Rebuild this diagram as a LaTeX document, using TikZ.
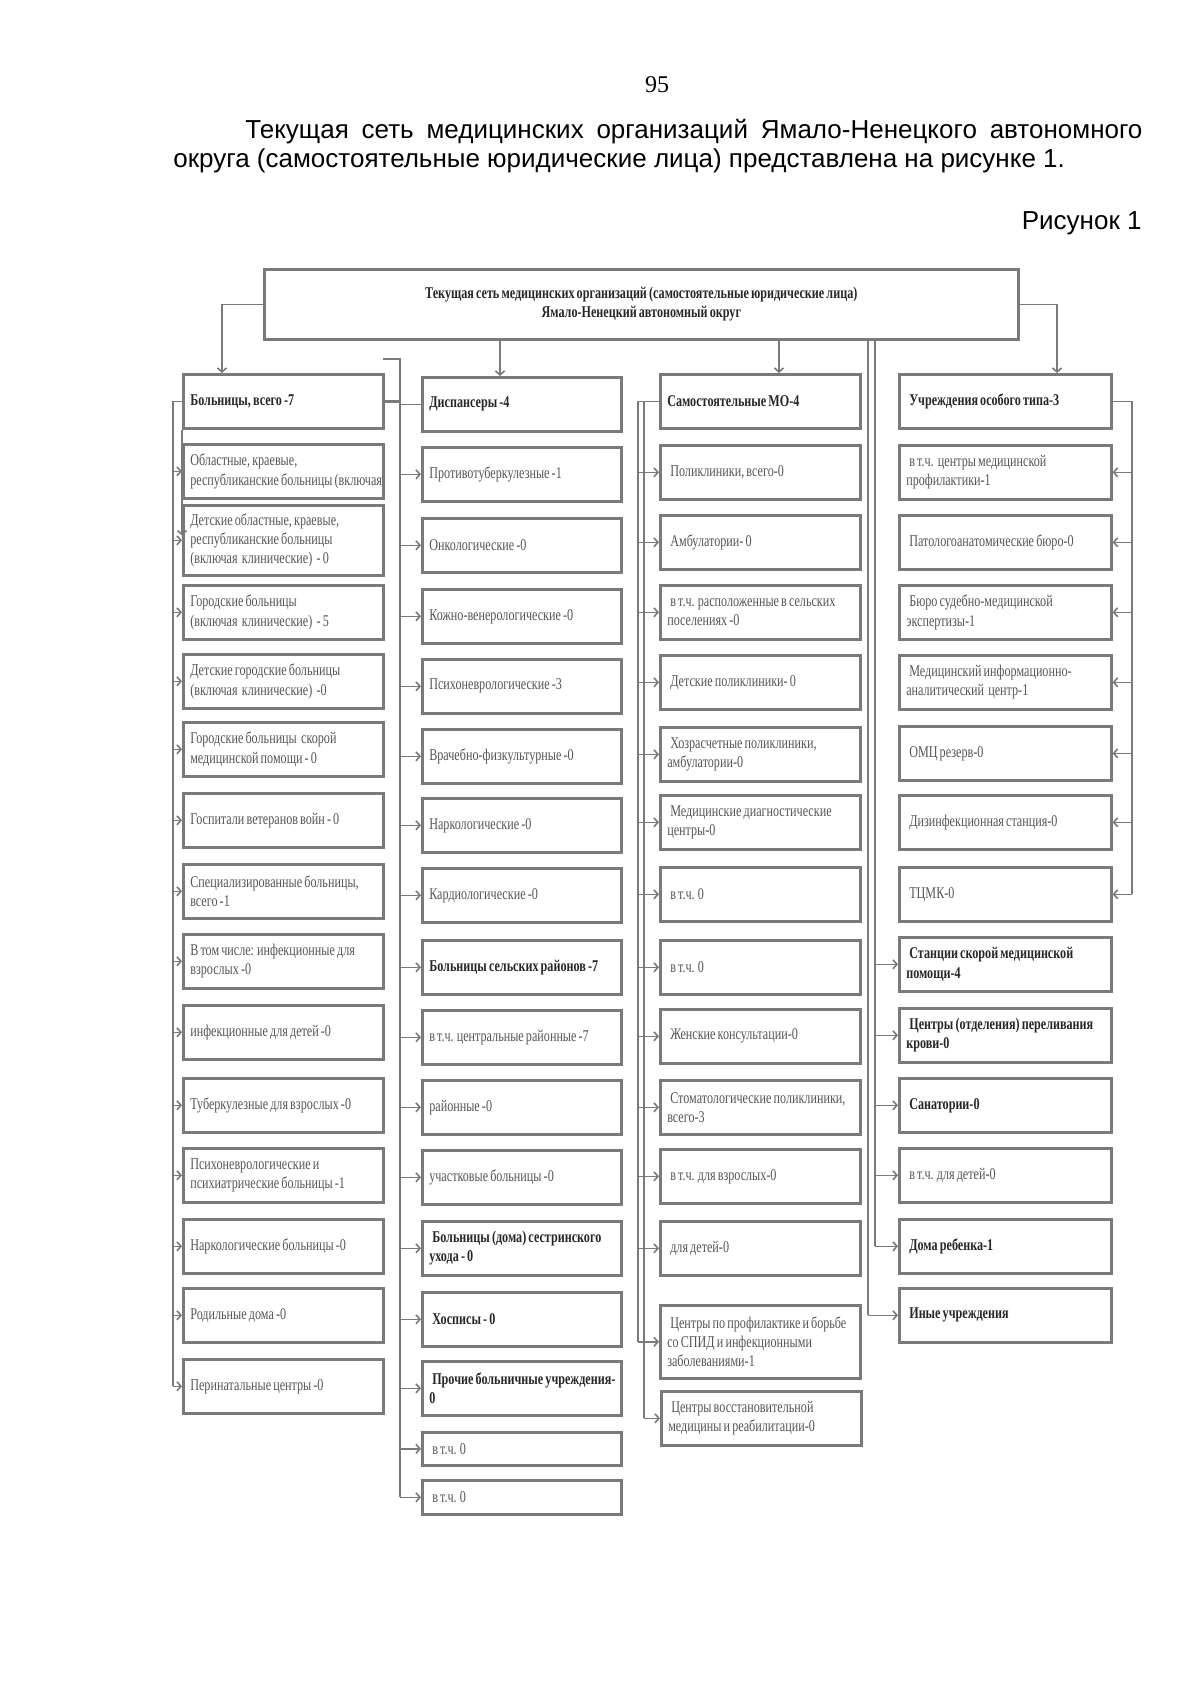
\documentclass[tikz,border=0pt]{standalone}
\usepackage{fontspec}
\setmainfont{Liberation Serif}
\setsansfont{Liberation Sans}
\newfontfamily\diagfont[FakeStretch=0.74, WordSpace=0.7]{Liberation Serif}
\usetikzlibrary{arrows.meta}
\definecolor{boxline}{HTML}{7A7A7A}
\definecolor{boxtext}{HTML}{555555}
\definecolor{boldtext}{HTML}{262626}
\newcommand{\indt}{\hspace*{1.5pt}}
\tikzset{
  orgcell/.style={draw=boxline, line width=1.3pt, anchor=north west,
                  minimum height=27pt, inner xsep=3.5pt, inner ysep=1pt,
                  align=flush left, text=boxtext,
                  font=\diagfont\fontsize{8.2}{9.6}\selectfont},
  boldcell/.style={orgcell, text=boldtext,
                  font=\diagfont\bfseries\fontsize{8.2}{9.6}\selectfont},
  topcell/.style={boldcell, minimum width=377pt, minimum height=35pt, align=center},
  wa/.style={text width=93pt},
  wb/.style={text width=92.5pt},
  wc/.style={text width=93pt},
  wd/.style={text width=99pt},
  pagetext/.style={inner sep=0pt, font=\sffamily\fontsize{13}{14.5}\selectfont},
  link/.style={draw=boxline, line width=0.8pt},
  arr/.style={link, -{Straight Barb[length=2pt, width=4.5pt]}},
}

\begin{document}
\begin{tikzpicture}[x=0.5pt, y=-0.5pt]
  \useasboundingbox (0,0) rectangle (1200,1697);
  \node[anchor=base, inner sep=0pt, font=\fontsize{12}{14}\selectfont] (pagenum) at (657,92) {95};
  \node[pagetext, anchor=base west] (introa) at (245,138)
    {\makebox[448.5pt][s]{Текущая сеть медицинских организаций Ямало-Ненецкого автономного}};
  \node[pagetext, anchor=base west] (introb) at (173,167)
    {округа (самостоятельные юридические лица) представлена на рисунке 1.};
  \node[pagetext, anchor=base east] (figlabel) at (1142,229) {Рисунок 1};

  \node[topcell] (top) at (263,268)
    {Текущая сеть медицинских организаций (самостоятельные юридические лица)\\Ямало-Ненецкий автономный округ};

  % hospitals
  \node[boldcell, wa] (h1) at (182,373) {Больницы, всего -7};
  \node[orgcell, wa] (h2) at (182,443) {Областные, краевые,\\\mbox{республиканские больницы (включая}};
  \node[orgcell, wa, minimum height=35pt] (h3) at (182,504) {Детские областные, краевые,\\республиканские больницы\\(включая\ \ клинические)\ \ - 0};
  \node[orgcell, wa] (h4) at (182,584) {Городские больницы\\(включая\ \ клинические)\ \ - 5};
  \node[orgcell, wa] (h5) at (182,653) {Детские городские больницы\\(включая\ \ клинические)\ \ -0};
  \node[orgcell, wa] (h6) at (182,721) {Городские больницы\ \ скорой\\медицинской помощи - 0};
  \node[orgcell, wa] (h7) at (182,792) {Госпитали ветеранов войн - 0};
  \node[orgcell, wa] (h8) at (182,863) {Специализированные больницы,\\всего -1};
  \node[orgcell, wa] (h9) at (182,933) {В том числе: инфекционные для\\взрослых -0};
  \node[orgcell, wa] (h10) at (182,1004) {инфекционные для детей -0};
  \node[orgcell, wa] (h11) at (182,1077) {Туберкулезные для взрослых -0};
  \node[orgcell, wa] (h12) at (182,1147) {Психоневрологические и\\психиатрические больницы -1};
  \node[orgcell, wa] (h13) at (182,1218) {Наркологические больницы -0};
  \node[orgcell, wa] (h14) at (182,1287) {Родильные дома -0};
  \node[orgcell, wa] (h15) at (182,1358) {Перинатальные центры -0};

  % dispensaries
  \node[boldcell, wb] (d1) at (421,376) {Диспансеры -4};
  \node[orgcell, wb] (d2) at (421,446) {Противотуберкулезные -1};
  \node[orgcell, wb] (d3) at (421,517) {Онкологические -0};
  \node[orgcell, wb] (d4) at (421,588) {Кожно-венерологические -0};
  \node[orgcell, wb] (d5) at (421,658) {Психоневрологические -3};
  \node[orgcell, wb] (d6) at (421,728) {Врачебно-физкультурные -0};
  \node[orgcell, wb] (d7) at (421,797) {Наркологические -0};
  \node[orgcell, wb] (d8) at (421,867) {Кардиологические -0};
  \node[boldcell, wb] (d9) at (421,939) {Больницы сельских районов -7};
  \node[orgcell, wb] (d10) at (421,1009) {в т.ч. центральные районные -7};
  \node[orgcell, wb] (d11) at (421,1079) {районные -0};
  \node[orgcell, wb] (d12) at (421,1149) {участковые больницы -0};
  \node[boldcell, wb] (d13) at (421,1220) {\indt Больницы (дома) сестринского\\ухода - 0};
  \node[boldcell, wb] (d14) at (421,1291) {\indt Хосписы - 0};
  \node[boldcell, wb] (d15) at (421,1360) {\indt \mbox{Прочие больничные учреждения-}\\0};
  \node[orgcell, wb, minimum height=16.5pt] (d16) at (421,1431) {\indt в т.ч. 0};
  \node[orgcell, wb, minimum height=17pt] (d17) at (421,1479) {\indt в т.ч. 0};

  % independent organisations
  \node[boldcell, wc] (m1) at (659,373) {Самостоятельные МО-4};
  \node[orgcell, wc] (m2) at (659,444) {\indt Поликлиники, всего-0};
  \node[orgcell, wc] (m3) at (659,514) {\indt Амбулатории- 0};
  \node[orgcell, wc] (m4) at (659,584) {\indt \mbox{в т.ч. расположенные в сельских}\\поселениях -0};
  \node[orgcell, wc] (m5) at (659,654) {\indt Детские поликлиники- 0};
  \node[orgcell, wc] (m6) at (659,726) {\indt Хозрасчетные поликлиники,\\амбулатории-0};
  \node[orgcell, wc] (m7) at (659,794) {\indt Медицинские диагностические\\центры-0};
  \node[orgcell, wc] (m8) at (659,866) {\indt в т.ч. 0};
  \node[orgcell, wc] (m9) at (659,939) {\indt в т.ч. 0};
  \node[orgcell, wc] (m10) at (659,1008) {\indt Женские консультации-0};
  \node[orgcell, wc] (m11) at (659,1079) {\indt \mbox{Стоматологические поликлиники,}\\всего-3};
  \node[orgcell, wc] (m12) at (659,1148) {\indt в т.ч. для взрослых-0};
  \node[orgcell, wc] (m13) at (659,1220) {\indt для детей-0};
  \node[orgcell, wc, minimum height=36.5pt] (m14) at (659,1304) {\indt \mbox{Центры по профилактике и борьбе}\\со СПИД и инфекционными\\заболеваниями-1};
  \node[orgcell, wc] (m15) at (660,1390) {\indt Центры восстановительной\\медицины и реабилитации-0};

  % special institutions
  \node[boldcell, wd] (u1) at (898,373) {\indt Учреждения особого типа-3};
  \node[orgcell, wd] (u2) at (898,444) {\indt в т.ч.\ \ центры медицинской\\профилактики-1};
  \node[orgcell, wd] (u3) at (898,514) {\indt Патологоанатомические бюро-0};
  \node[orgcell, wd] (u4) at (898,584) {\indt Бюро судебно-медицинской\\экспертизы-1};
  \node[orgcell, wd] (u5) at (898,654) {\indt Медицинский информационно-\\аналитический\ \ центр-1};
  \node[orgcell, wd] (u6) at (898,725) {\indt ОМЦ резерв-0};
  \node[orgcell, wd] (u7) at (898,794) {\indt Дизинфекционная станция-0};
  \node[orgcell, wd] (u8) at (898,866) {\indt ТЦМК-0};
  \node[boldcell, wd] (u9) at (898,936) {\indt Станции скорой медицинской\\помощи-4};
  \node[boldcell, wd] (u10) at (898,1007) {\indt \mbox{Центры (отделения) переливания}\\крови-0};
  \node[boldcell, wd] (u11) at (898,1077) {\indt Санатории-0};
  \node[orgcell, wd] (u12) at (898,1147) {\indt в т.ч. для детей-0};
  \node[boldcell, wd] (u13) at (898,1218) {\indt Дома ребенка-1};
  \node[boldcell, wd] (u14) at (898,1287) {\indt Иные учреждения};

  \coordinate (h1in) at (222,373);
  \coordinate (d1in) at (500,376);
  \coordinate (m1in) at (779,373);
  \coordinate (u1in) at (1057,373);
  \draw[arr] (top.west) -| (h1in);
  \draw[arr] (top.south -| d1in) -- (d1in);
  \draw[arr] (top.south -| m1in) -- (m1in);
  \draw[arr] (top.east) -| (u1in);

  \coordinate (hbus) at (173,400);
  \draw[link] (h1.west) -| (hbus |- h15.west);
  \foreach \i in {2,...,15} \draw[arr] (hbus |- h\i.west) -- (h\i.west);
  \draw[arr] (h1.south west) -- ++(0,106);

  \coordinate (dstub) at (383,359);
  \coordinate (dbus) at (400,359);
  \draw[link] (dstub) -- (dbus) -- (dbus |- d17.west);
  \draw[link, line width=1.4pt] (h1.east) -| (dbus |- d8.west);
  \draw[link] (dbus |- d1.west) -- (d1.west);
  \foreach \i in {2,...,17} \draw[arr] (dbus |- d\i.west) -- (d\i.west);

  \coordinate (mbus) at (638,400);
  \coordinate (mbusb) at (644,400);
  \draw[link] (m1.west) -| (mbus |- m14.west);
  \draw[link] (m1.west) -| (mbusb |- m15.west);
  \foreach \i in {2,...,14} \draw[arr] (mbus |- m\i.west) -- (m\i.west);
  \draw[arr] (mbusb |- m15.west) -- (m15.west);

  \coordinate (ubusr) at (1132,400);
  \draw[link] (u1.east) -| (ubusr |- u8.east);
  \foreach \i in {2,...,8} \draw[arr] (ubusr |- u\i.east) -- (u\i.east);

  \coordinate (ubus) at (875,338);
  \coordinate (ibus) at (868,338);
  \draw[link] (top.south -| ubus) -- (ubus |- u13.west);
  \foreach \i in {9,...,13} \draw[arr] (ubus |- u\i.west) -- (u\i.west);
  \draw[link] (top.south -| ibus) -- (ibus |- u14.west);
  \draw[arr] (ibus |- u14.west) -- (u14.west);
\end{tikzpicture}
\end{document}
